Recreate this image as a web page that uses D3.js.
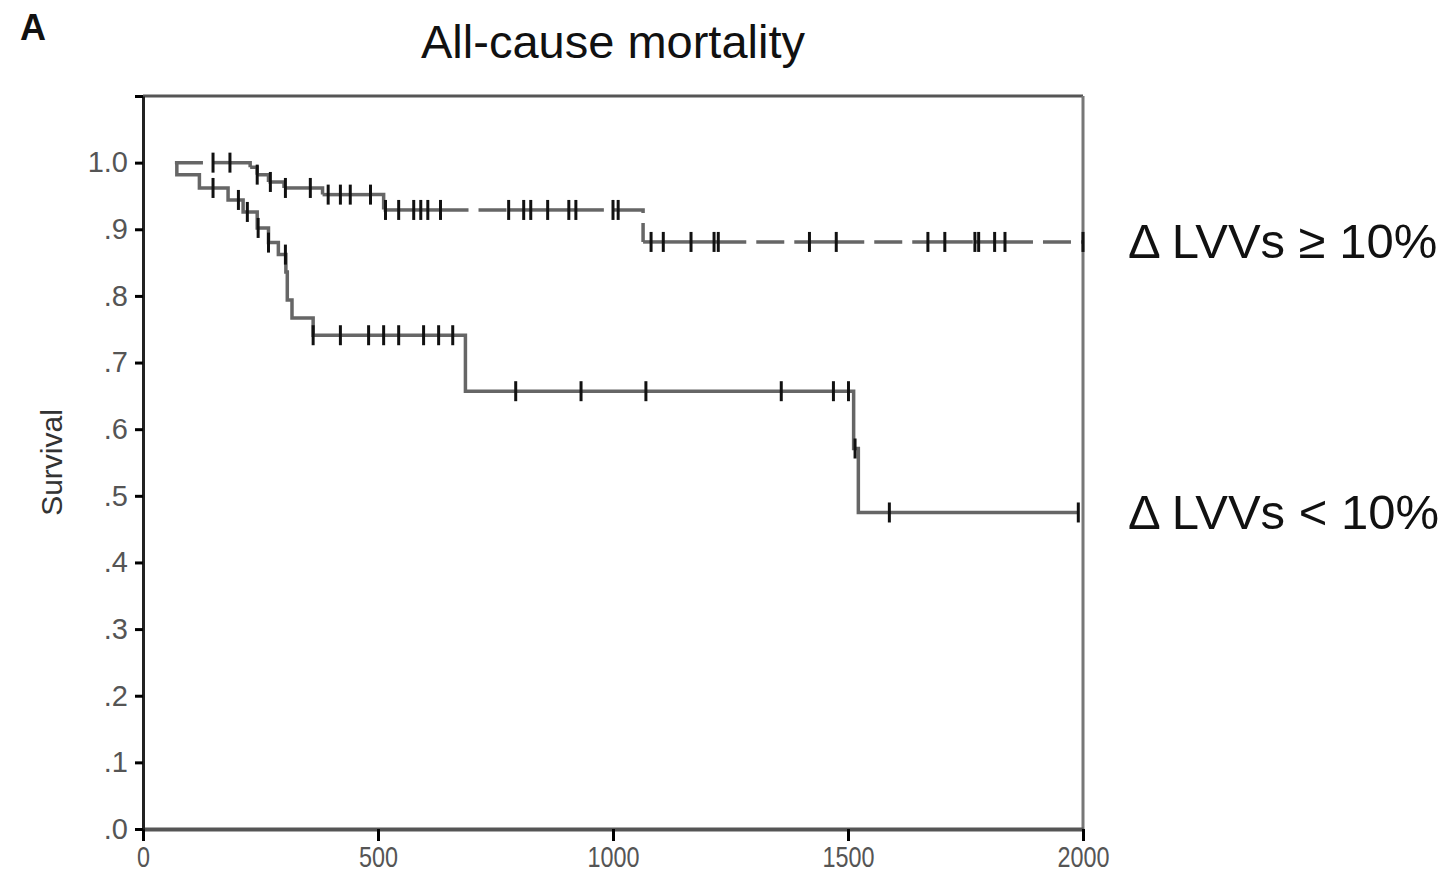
<!DOCTYPE html>
<html>
<head>
<meta charset="utf-8">
<script src="https://cdn.jsdelivr.net/npm/d3@7"></script>
<style>
  html, body { margin: 0; padding: 0; background: #fff; }
  text { font-family: "Liberation Sans", Arial, sans-serif; }
</style>
</head>
<body>
<script>
var width = 1453, height = 875;

// group with LVVs change >= 10% (dashed curve)
var upperTimes  = [68, 228, 243, 267, 300, 382, 512, 1064, 2000];
var upperSurv   = [1.0, 0.993, 0.982, 0.971, 0.962, 0.952, 0.929, 0.881, 0.881];
var upperCensor = [149, 185, 243, 271, 303, 356, 394, 420, 441, 484, 516, 544, 576, 591, 606, 633,
                   778, 810, 825, 861, 906, 921, 1000, 1011, 1081, 1107, 1166, 1215, 1224,
                   1418, 1475, 1670, 1706, 1770, 1778, 1812, 1834, 2000];

// group with LVVs change < 10% (solid curve)
var lowerTimes  = [68, 72, 120, 181, 213, 243, 267, 288, 304, 307, 317, 362, 686, 1512, 1522, 1990];
var lowerSurv   = [1.0, 0.982, 0.962, 0.944, 0.926, 0.902, 0.880, 0.862, 0.836, 0.794, 0.767, 0.741, 0.657, 0.571, 0.475, 0.475];
var lowerCensor = [149, 203, 222, 245, 267, 303, 362, 420, 480, 512, 544, 597, 629, 659,
                   793, 932, 1070, 1358, 1469, 1501, 1515, 1588, 1990];

var seriesLabels = ["\u0394 LVVs \u2265 10%", "\u0394 LVVs < 10%"];
var xTicks = [0, 500, 1000, 1500, 2000];
var yTicks = [0, 0.1, 0.2, 0.3, 0.4, 0.5, 0.6, 0.7, 0.8, 0.9, 1.0, 1.1];
var yTickLabels = [".0", ".1", ".2", ".3", ".4", ".5", ".6", ".7", ".8", ".9", "1.0", ""];

var x = d3.scaleLinear().domain([0, 2000]).range([143, 1083]);
var y = d3.scaleLinear().domain([0, 1.1]).range([829, 96]);

var svg = d3.select("body").append("svg")
    .attr("width", width)
    .attr("height", height)
    .attr("xmlns", "http://www.w3.org/2000/svg")
    .style("background", "white");

// survival value of a step curve at time t
function survAt(times, surv, t) {
  var i = d3.bisectRight(times, t) - 1;
  return surv[Math.max(0, i)];
}

var stepLine = d3.line()
    .x(function(d) { return x(d[0]); })
    .y(function(d) { return y(d[1]); })
    .curve(d3.curveStepAfter);

// plot frame (top and right)
svg.append("line")
    .attr("x1", x(0)).attr("x2", x(2000))
    .attr("y1", y(1.1)).attr("y2", y(1.1))
    .attr("stroke", "#555").attr("stroke-width", 3);
svg.append("line")
    .attr("x1", x(2000)).attr("x2", x(2000))
    .attr("y1", y(1.1)).attr("y2", y(0))
    .attr("stroke", "#777").attr("stroke-width", 3);

// axes
var xAxis = svg.append("g")
    .attr("transform", "translate(0," + y(0) + ")")
    .call(d3.axisBottom(x).tickValues(xTicks).tickSize(12).tickSizeOuter(0).tickPadding(5)
      .tickFormat(d3.format("d")));
xAxis.select(".domain").attr("stroke", "#555").attr("stroke-width", 4);
xAxis.selectAll(".tick line").attr("stroke", "#000").attr("stroke-width", 3);
xAxis.selectAll(".tick text")
    .style("font-size", "30px")
    .attr("fill", "#555")
    .attr("textLength", function(d) { return String(d).length * 13; })
    .attr("lengthAdjust", "spacingAndGlyphs");

var yAxis = svg.append("g")
    .attr("transform", "translate(" + x(0) + ",0)")
    .call(d3.axisLeft(y).tickValues(yTicks).tickSize(8).tickSizeOuter(0).tickPadding(7)
      .tickFormat(function(d, i) { return yTickLabels[i]; }));
yAxis.select(".domain").attr("stroke", "#222").attr("stroke-width", 3);
yAxis.selectAll(".tick line").attr("stroke", "#000").attr("stroke-width", 3);
yAxis.selectAll(".tick text")
    .style("font-size", "29px")
    .attr("fill", "#555");

// dashed curve: pattern restarts at every event (step or censor), as in the original
var upperEvents = d3.sort(Array.from(new Set(upperTimes.concat(upperCensor))), d3.ascending);
var upperSegs = d3.pairs(upperEvents).map(function(p) {
  return [[p[0], survAt(upperTimes, upperSurv, p[0])], [p[1], survAt(upperTimes, upperSurv, p[1])]];
});
svg.append("g").selectAll("path")
    .data(upperSegs)
    .enter().append("path")
    .attr("d", stepLine)
    .attr("fill", "none")
    .attr("stroke", "#666")
    .attr("stroke-width", 3.5)
    .attr("stroke-dasharray", "28,10");

// solid curve
svg.append("path")
    .datum(d3.zip(lowerTimes, lowerSurv))
    .attr("d", stepLine)
    .attr("fill", "none")
    .attr("stroke", "#666")
    .attr("stroke-width", 3.5);

// censor ticks
function drawCensor(times, surv, censor) {
  svg.append("g").selectAll("line")
      .data(censor)
      .enter().append("line")
      .attr("x1", function(d) { return x(d); })
      .attr("x2", function(d) { return x(d); })
      .attr("y1", function(d) { return y(survAt(times, surv, d)) - 10; })
      .attr("y2", function(d) { return y(survAt(times, surv, d)) + 10; })
      .attr("stroke", "#111")
      .attr("stroke-width", 3);
}
drawCensor(upperTimes, upperSurv, upperCensor);
drawCensor(lowerTimes, lowerSurv, lowerCensor);

// curve labels
svg.append("text")
    .attr("x", 1128).attr("y", y(upperSurv[upperSurv.length - 1]))
    .attr("dy", "0.33em")
    .style("font-size", "49px").attr("fill", "#111")
    .text(seriesLabels[0]);
svg.append("text")
    .attr("x", 1128).attr("y", y(lowerSurv[lowerSurv.length - 1]))
    .attr("dy", "0.33em")
    .style("font-size", "49px").attr("fill", "#111")
    .text(seriesLabels[1]);

// title, panel letter, y label
svg.append("text")
    .attr("x", (x(0) + x(2000)) / 2).attr("y", 58)
    .attr("text-anchor", "middle")
    .style("font-size", "47px").attr("fill", "#111")
    .text("All-cause mortality");

svg.append("text")
    .attr("x", 20).attr("y", 40)
    .style("font-size", "36px").style("font-weight", "bold").attr("fill", "#111")
    .text("A");

svg.append("text")
    .attr("transform", "translate(62," + (y(0) + y(1.1)) / 2 + ")rotate(-90)")
    .attr("text-anchor", "middle")
    .style("font-size", "30px").attr("fill", "#333")
    .text("Survival");
</script>
</body>
</html>
